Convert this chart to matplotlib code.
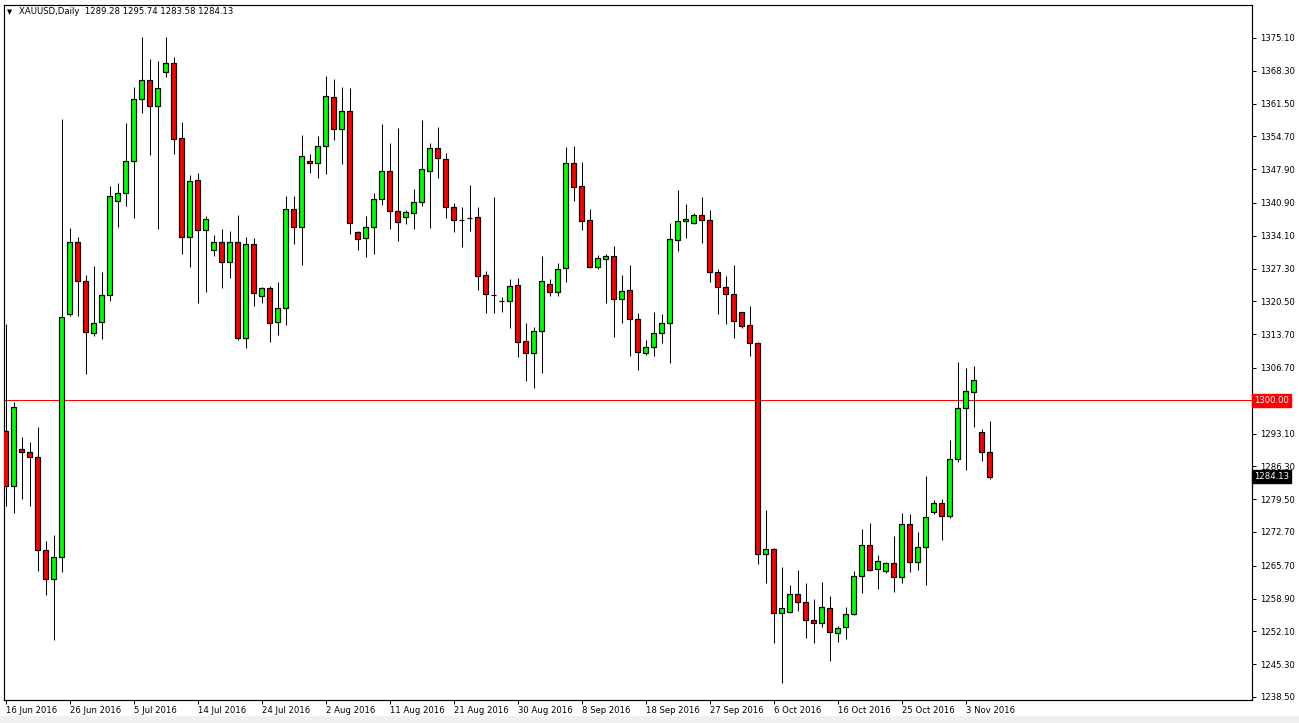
import matplotlib
matplotlib.use('Agg')
import matplotlib.pyplot as plt
from matplotlib.patches import Rectangle
from matplotlib.transforms import blended_transform_factory

# daily XAUUSD candles, 16 Jun 2016 .. 7 Nov 2016 (sunday bars included)
opens = [
    1293.57, 1282.13, 1289.88, 1289.36, 1288.18, 1269.04, 1262.91, 1267.49, 1317.95, 1332.71,
    1324.73, 1314.03, 1316.25, 1321.78, 1341.21, 1342.91, 1349.54, 1362.39, 1366.39, 1361.00,
    1368.11, 1369.98, 1354.35, 1333.81, 1345.62, 1335.30, 1331.15, 1332.75, 1328.73, 1332.75,
    1312.85, 1332.33, 1321.68, 1323.21, 1316.16, 1319.07, 1339.59, 1335.98, 1349.60, 1349.13,
    1352.77, 1362.81, 1356.17, 1360.03, 1334.95, 1333.58, 1335.86, 1341.66, 1347.53, 1339.30,
    1337.93, 1338.88, 1341.04, 1347.59, 1352.24, 1349.95, 1340.13, 1337.30, 1337.70, 1337.93,
    1325.97, 1321.80, 1320.68, 1320.64, 1323.90, 1312.29, 1309.74, 1314.42, 1324.10, 1322.51,
    1327.36, 1349.13, 1344.42, 1337.37, 1327.69, 1329.35, 1329.91, 1320.93, 1322.86, 1316.79,
    1309.74, 1310.98, 1313.88, 1315.96, 1333.16, 1337.10, 1336.69, 1338.41, 1337.31, 1326.53,
    1323.42, 1321.97, 1318.24, 1315.60, 1311.81, 1268.07, 1269.11, 1255.84, 1256.05, 1259.78,
    1258.25, 1254.49, 1253.77, 1256.88, 1251.69, 1252.94, 1255.70, 1263.57, 1270.00, 1264.96,
    1264.67, 1266.21, 1263.43, 1274.35, 1266.41, 1269.52, 1276.90, 1278.64, 1276.07, 1287.76,
    1298.34, 1301.78, 1293.42, 1289.28]
highs = [
    1315.73, 1299.62, 1292.45, 1291.35, 1294.46, 1270.83, 1272.16, 1358.41, 1335.65, 1333.81,
    1326.05, 1327.90, 1326.65, 1344.52, 1345.10, 1357.44, 1364.88, 1375.25, 1370.68, 1370.39,
    1375.25, 1371.10, 1357.67, 1346.74, 1347.11, 1338.24, 1334.26, 1335.51, 1335.09, 1338.41,
    1333.91, 1333.58, 1323.40, 1323.69, 1324.58, 1342.35, 1342.35, 1354.99, 1350.99, 1354.78,
    1367.22, 1366.60, 1364.88, 1364.67, 1335.10, 1338.20, 1342.91, 1357.27, 1353.40, 1356.38,
    1339.44, 1343.80, 1358.10, 1353.27, 1356.65, 1351.20, 1340.83, 1340.00, 1344.63, 1340.00,
    1326.86, 1342.08, 1321.47, 1325.14, 1325.29, 1316.08, 1315.25, 1329.91, 1325.14, 1328.52,
    1352.57, 1352.71, 1349.46, 1339.59, 1330.12, 1330.26, 1331.98, 1325.97, 1328.04, 1318.15,
    1312.50, 1318.36, 1317.89, 1336.81, 1343.59, 1340.69, 1338.76, 1342.20, 1339.44, 1327.21,
    1325.76, 1328.04, 1318.40, 1319.54, 1312.00, 1277.25, 1269.30, 1265.50, 1261.71, 1264.82,
    1262.06, 1258.74, 1262.27, 1259.43, 1253.27, 1257.21, 1264.67, 1273.32, 1274.62, 1267.93,
    1266.54, 1271.86, 1276.57, 1276.43, 1272.76, 1284.30, 1279.33, 1279.47, 1291.77, 1307.87,
    1306.63, 1307.11, 1293.98, 1295.74]
lows = [
    1278.06, 1276.57, 1279.53, 1278.06, 1264.61, 1259.59, 1250.37, 1264.40, 1317.50, 1317.57,
    1305.39, 1313.37, 1312.62, 1320.52, 1335.82, 1340.32, 1337.87, 1359.45, 1350.85, 1335.51,
    1366.95, 1351.01, 1330.34, 1327.69, 1320.14, 1322.51, 1330.01, 1323.21, 1325.29, 1312.50,
    1310.77, 1319.54, 1320.23, 1312.14, 1313.53, 1315.60, 1332.40, 1328.04, 1347.18, 1346.14,
    1346.91, 1353.96, 1348.98, 1334.47, 1331.15, 1329.76, 1330.32, 1340.48, 1335.51, 1333.02,
    1336.54, 1335.51, 1340.34, 1335.77, 1346.02, 1337.72, 1334.82, 1331.71, 1335.15, 1322.86,
    1318.03, 1318.15, 1318.36, 1314.92, 1309.03, 1304.06, 1302.48, 1305.59, 1321.68, 1321.68,
    1324.58, 1341.37, 1335.30, 1327.36, 1327.15, 1320.23, 1313.18, 1315.96, 1309.24, 1306.28,
    1309.39, 1309.18, 1311.81, 1307.79, 1331.01, 1333.70, 1336.54, 1332.67, 1324.58, 1317.89,
    1315.81, 1312.97, 1315.04, 1309.24, 1266.06, 1262.06, 1249.62, 1241.33, 1255.90, 1256.38,
    1250.66, 1249.62, 1253.06, 1246.01, 1249.95, 1250.45, 1255.50, 1260.11, 1264.61, 1260.88,
    1264.26, 1260.32, 1262.06, 1264.47, 1264.82, 1261.71, 1276.36, 1271.04, 1275.53, 1287.27,
    1285.55, 1294.52, 1287.48, 1283.58]
closes = [
    1282.13, 1298.58, 1289.28, 1288.18, 1269.04, 1262.91, 1267.49, 1317.35, 1332.71, 1324.73,
    1314.24, 1316.08, 1321.84, 1342.31, 1342.97, 1349.54, 1362.39, 1366.39, 1361.00, 1364.67,
    1369.98, 1354.16, 1333.81, 1345.41, 1335.30, 1337.66, 1332.81, 1328.73, 1332.87, 1312.85,
    1332.33, 1322.18, 1323.21, 1315.96, 1319.07, 1339.59, 1335.98, 1350.70, 1349.13, 1352.65,
    1363.08, 1356.17, 1360.03, 1336.69, 1333.37, 1335.98, 1341.66, 1347.53, 1339.30, 1337.02,
    1338.97, 1341.04, 1347.94, 1352.24, 1350.16, 1340.00, 1337.37, 1337.30, 1337.70, 1325.83,
    1321.97, 1321.80, 1320.68, 1323.69, 1312.14, 1309.74, 1314.36, 1324.73, 1322.45, 1327.15,
    1349.13, 1344.27, 1337.23, 1327.69, 1329.43, 1329.85, 1320.93, 1322.72, 1316.79, 1309.95,
    1310.98, 1313.88, 1315.96, 1333.37, 1337.10, 1337.52, 1338.41, 1337.31, 1326.53, 1323.42,
    1321.97, 1316.50, 1315.46, 1311.81, 1268.07, 1269.11, 1255.84, 1256.88, 1259.78, 1258.25,
    1254.49, 1253.77, 1257.08, 1251.90, 1252.85, 1255.63, 1263.57, 1270.00, 1264.82, 1266.68,
    1266.21, 1263.43, 1274.35, 1266.41, 1269.52, 1275.74, 1278.64, 1276.07, 1287.83, 1298.34,
    1301.93, 1304.14, 1289.22, 1284.13]

date_labels = ['16 Jun 2016', '26 Jun 2016', '5 Jul 2016', '14 Jul 2016', '24 Jul 2016',
               '2 Aug 2016', '11 Aug 2016', '21 Aug 2016', '30 Aug 2016', '8 Sep 2016',
               '18 Sep 2016', '27 Sep 2016', '6 Oct 2016', '16 Oct 2016', '25 Oct 2016',
               '3 Nov 2016']
date_bars = [0, 8, 16, 24, 32, 40, 48, 56, 64, 72, 80, 88, 96, 104, 112, 120]
price_ticks = [1375.10, 1368.30, 1361.50, 1354.70, 1347.90, 1340.90, 1334.10, 1327.30,
               1320.50, 1313.70, 1306.70, 1293.10, 1286.30, 1279.50, 1272.70, 1265.70,
               1258.90, 1252.10, 1245.30, 1238.50]
level_line = 1300.00
symbol = 'XAUUSD,Daily'

W, H = 1299, 723
FONT = 'DejaVu Sans'
FS = 6.1
px = 72.0 / 100  # one pixel in points


def main():
    fig = plt.figure(figsize=(W / 100, H / 100), dpi=100, facecolor='white')
    # light grey strip under the date scale
    fig.patches.append(Rectangle((0, 0), 1, 7 / H, transform=fig.transFigure,
                                 facecolor='#f0f0f0', edgecolor='none', zorder=0))
    ax = fig.add_axes([4 / W, 23 / H, (1252 - 4) / W, (700 - 5) / H])
    ax.set_facecolor('white')

    n = len(opens)
    xs = list(range(n))
    # wicks first, bodies on top
    ax.vlines(xs, lows, highs, color='black', linewidth=px, zorder=2)
    for i in xs:
        o, c = opens[i], closes[i]
        if c > o:
            fc = '#00ff00'
        elif c < o:
            fc = '#ff0000'
        else:
            fc = 'black'
        ax.bar(i, c - o, bottom=o, width=0.66, color=fc, edgecolor='black',
               linewidth=px * 1.2, zorder=3)

    ax.axhline(level_line, color='#ff0000', linewidth=px, zorder=1)

    ax.set_xlim(-0.19, 155.8)
    ax.set_ylim(1237.87, 1381.94)

    for s in ax.spines.values():
        s.set_color('black')
        s.set_linewidth(px * 1.2)

    ax.yaxis.tick_right()
    ax.set_yticks(price_ticks)
    ax.set_yticklabels(['%.2f' % v for v in price_ticks], fontsize=FS, family=FONT)
    ax.tick_params(axis='y', direction='out', length=3, width=px, pad=2.5, colors='black')

    ax.set_xticks(date_bars)
    ax.set_xticklabels(date_labels, fontsize=FS, family=FONT, ha='left')
    ax.tick_params(axis='x', direction='out', length=3, width=px, pad=1, colors='black')

    # price boxes on the scale
    tr = blended_transform_factory(ax.transAxes, ax.transData)
    ax.text(1.0018, level_line, '%.2f' % level_line, transform=tr, fontsize=FS, family=FONT,
            color='white', va='center', ha='left', zorder=5, clip_on=False,
            bbox=dict(boxstyle='square,pad=0.25', fc='#ff0000', ec='#ff0000'))
    ax.text(1.0018, closes[-1], '%.2f' % closes[-1], transform=tr, fontsize=FS, family=FONT,
            color='white', va='center', ha='left', zorder=5, clip_on=False,
            bbox=dict(boxstyle='square,pad=0.25', fc='black', ec='black'))

    head = '%s  %.2f %.2f %.2f %.2f' % (symbol, opens[-1], highs[-1], lows[-1], closes[-1])
    fig.text(7 / W, 1 - 12 / H, '\u25bc', fontsize=4.8, family=FONT, va='center', ha='left')
    fig.text(19 / W, 1 - 12 / H, head, fontsize=FS, family=FONT, va='center', ha='left')

    fig.savefig('out.png', dpi=100, facecolor=fig.get_facecolor())


if __name__ == '__main__':
    main()
